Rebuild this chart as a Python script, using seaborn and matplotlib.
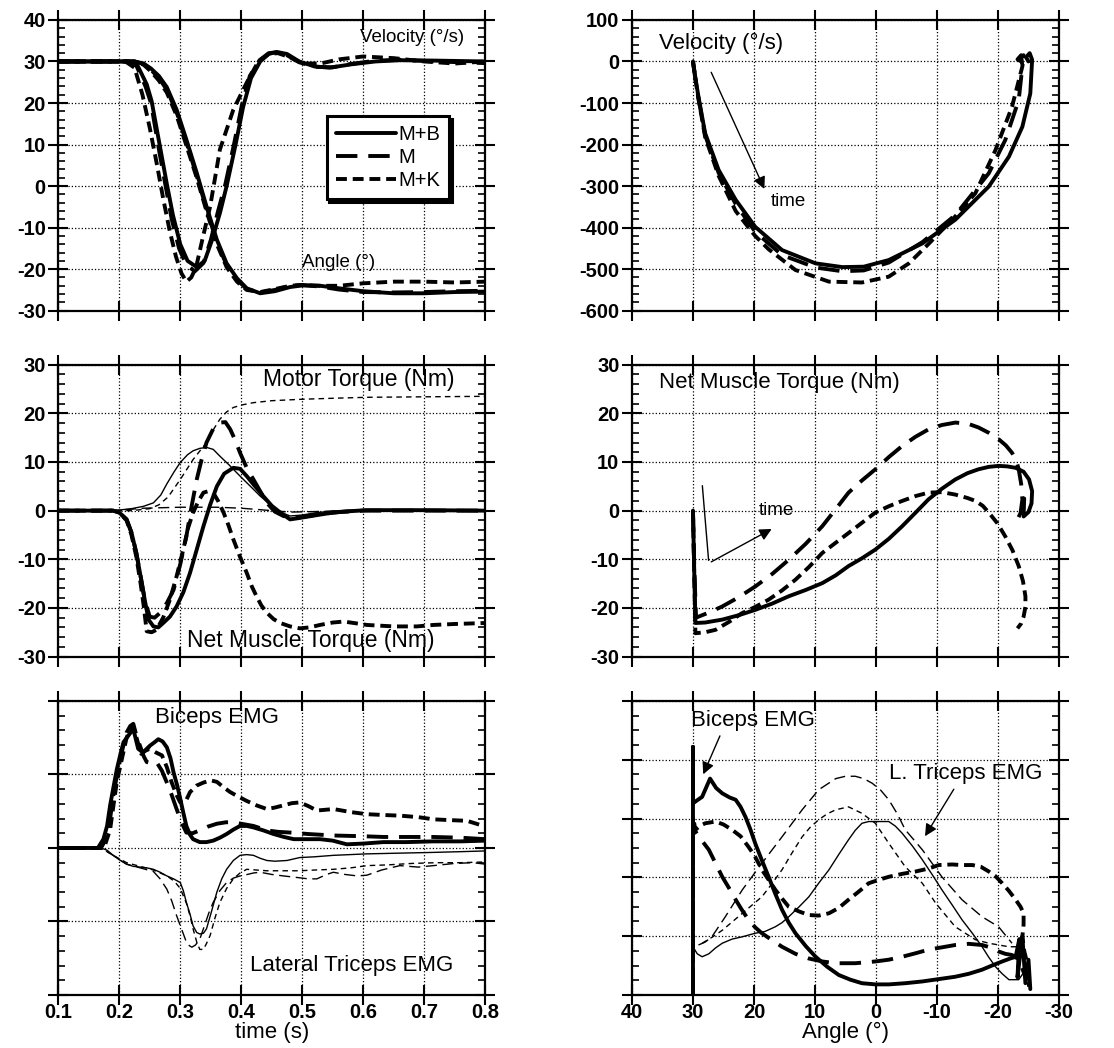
import matplotlib
matplotlib.use("Agg")
import matplotlib.pyplot as plt
import seaborn as sns
from matplotlib.ticker import AutoMinorLocator

# ---------------- data ----------------
# top left: joint angle and (scaled) velocity vs time
vel_t_mb = [0.10, 0.215, 0.23, 0.245, 0.253, 0.268, 0.278, 0.288, 0.300, 0.312, 0.327, 0.340, 0.352, 0.365, 0.376,
            0.390, 0.403, 0.416, 0.431, 0.445, 0.458, 0.475, 0.495, 0.52, 0.545, 0.58, 0.62, 0.66, 0.72, 0.80]
vel_mb = [30, 30, 29, 24.5, 20.5, 8.5, 0.5, -7.0, -14.0, -18.0, -19.5, -18.0, -13.0, -6.5, 0.0,
          9.5, 19.0, 26.0, 30.0, 31.8, 32.3, 31.8, 30.0, 28.8, 28.5, 29.3, 30.0, 30.3, 30.2, 30.0]
vel_t_m = [0.10, 0.213, 0.228, 0.243, 0.252, 0.266, 0.276, 0.286, 0.298, 0.310, 0.324, 0.338, 0.350, 0.362, 0.374,
           0.388, 0.401, 0.414, 0.430, 0.445, 0.458, 0.475, 0.495, 0.52, 0.55, 0.58, 0.62, 0.66, 0.72, 0.80]
vel_m = [30, 30, 29, 24, 20, 8, 0, -8, -15, -19, -20.5, -18.5, -13, -6, 0.5,
         10, 19.5, 26.5, 30.3, 32, 32.2, 31.5, 29.8, 28.7, 28.6, 29.4, 30.2, 30.4, 30, 29.6]
vel_t_mk = [0.10, 0.21, 0.225, 0.238, 0.25, 0.262, 0.272, 0.283, 0.293, 0.302, 0.31, 0.318, 0.326, 0.336, 0.349,
            0.365, 0.387, 0.409, 0.428, 0.445, 0.46, 0.48, 0.50, 0.53, 0.56, 0.60, 0.65, 0.70, 0.75, 0.80]
vel_mk = [30, 30, 28.5, 22, 14, 5, -3, -11, -17, -21, -23, -22, -19.5, -13, -4.9,
          8.8, 18.4, 24.9, 30, 31.8, 32, 31, 29.5, 29.5, 30.5, 31.2, 30.8, 30.0, 29.5, 30]

ang_t = [0.10, 0.225, 0.240, 0.252, 0.265, 0.278, 0.294, 0.310, 0.327, 0.343, 0.360, 0.376, 0.393, 0.409, 0.431,
         0.455, 0.48, 0.50, 0.53, 0.56, 0.60, 0.65, 0.70, 0.75, 0.80]
ang_mb = [30, 30, 29.5, 28.3, 26.5, 23.8, 18.4, 11.2, 3.2, -4.9, -12.9, -18.6, -22.2, -24.6, -25.8,
          -25.3, -24.3, -23.9, -24.0, -24.6, -25.3, -25.8, -25.8, -25.5, -25.4]
ang_m = [30, 30, 29.4, 28.0, 26.0, 23.2, 17.8, 10.5, 2.5, -5.5, -13.5, -19.0, -22.5, -24.8, -25.6,
         -25.0, -24.0, -23.8, -24.2, -24.9, -25.5, -25.6, -25.5, -25.3, -25.2]
ang_mk = [30, 30, 29.2, 27.6, 25.4, 22.5, 17.0, 9.8, 2.0, -6.0, -14.0, -19.5, -23.0, -25.0, -25.5,
          -24.8, -24.0, -23.8, -24.0, -24.0, -23.4, -23.0, -23.0, -23.2, -23.0]

# top right: velocity vs angle
ph_a_mb = [30, 29.6, 29.1, 28.0, 25.8, 23.0, 19.8, 15.4, 9.9, 5.5, 2.0, -2.1, -7.6, -13.0, -18.5, -21.8, -24.0,
           -25.3, -25.6, -25.2, -24.6, -25.0]
ph_v_mb = [0, -40, -85, -173, -261, -333, -398, -454, -486, -495, -494, -478, -438, -381, -301, -229, -157,
           -77, 4, 20, 10, 0]
ph_a_m = [30, 29.6, 29.1, 28.0, 25.8, 23.0, 19.8, 15.4, 9.9, 5.5, 2.0, -2.1, -7.6, -13.0, -18.5, -21.2, -23.4,
          -24.0, -23.8, -23.2, -23.8]
ph_v_m = [0, -42, -88, -178, -268, -343, -410, -466, -496, -505, -503, -484, -435, -370, -269, -189, -93,
          -12, 15, 5, 0]
ph_a_mk = [30, 29.6, 29.1, 28.0, 25.8, 23.0, 19.8, 17.6, 13.2, 7.7, 2.3, -2.1, -5.4, -8.7, -13.0, -16.3, -19.6,
           -22.3, -24.0, -24.2, -23.5, -24.0]
ph_v_mk = [0, -42, -90, -182, -275, -360, -420, -452, -502, -530, -532, -518, -486, -438, -373, -317, -213,
           -109, -12, 15, 8, 0]

# middle left: motor torque (thin) and net muscle torque (thick) vs time
mot_t_mb = [0.10, 0.19, 0.22, 0.24, 0.256, 0.268, 0.278, 0.29, 0.30, 0.312, 0.321, 0.332, 0.343, 0.354, 0.365,
            0.38, 0.398, 0.415, 0.431, 0.445, 0.458, 0.47, 0.48, 0.50, 0.524, 0.56, 0.606, 0.65, 0.80]
mot_mb = [0, 0, 0.4, 0.9, 1.6, 3.2, 5.5, 8.0, 9.9, 11.5, 12.3, 12.8, 13.0, 12.6, 11.2,
          9.4, 7.1, 5.0, 3.0, 1.5, 0.2, -0.6, -1.1, -0.9, -0.4, 0.0, 0.2, 0.1, 0.0]
mot_t_m = [0.10, 0.19, 0.24, 0.30, 0.36, 0.40, 0.42, 0.45, 0.48, 0.52, 0.60, 0.80]
mot_m = [0, 0, 0.5, 0.7, 0.7, 0.5, 0.3, 0.0, -0.3, -0.2, 0.1, 0.0]
mot_t_mk = [0.10, 0.22, 0.25, 0.265, 0.28, 0.30, 0.321, 0.343, 0.355, 0.365, 0.376, 0.387, 0.40, 0.42, 0.45,
            0.50, 0.55, 0.606, 0.70, 0.80]
mot_mk = [0, 0, 0.4, 1.2, 2.8, 6.4, 10.5, 14.0, 16.8, 18.8, 20.3, 21.2, 21.7, 22.2, 22.6,
          22.9, 23.1, 23.3, 23.4, 23.5]

net_t_mb = [0.10, 0.19, 0.20, 0.212, 0.22, 0.228, 0.235, 0.242, 0.248, 0.256, 0.264, 0.272, 0.283, 0.294, 0.305,
            0.316, 0.327, 0.338, 0.349, 0.36, 0.372, 0.387, 0.398, 0.409, 0.42, 0.436, 0.45, 0.464, 0.48, 0.496,
            0.52, 0.55, 0.58, 0.606, 0.70, 0.80]
net_mb = [0, 0, -0.4, -1.8, -4.5, -8.7, -13.5, -18.5, -22.4, -23.8, -24.0, -23.1, -21.8, -19.7, -16.8,
          -12.8, -8.0, -3.2, 1.2, 5.0, 7.6, 8.8, 8.6, 7.1, 5.4, 3.0, 1.0, -0.4, -1.8, -1.5,
          -1.0, -0.4, -0.1, 0.1, 0.1, 0.0]
net_t_m = [0.10, 0.19, 0.20, 0.212, 0.22, 0.228, 0.235, 0.242, 0.25, 0.258, 0.267, 0.278, 0.289, 0.30, 0.31,
           0.318, 0.327, 0.335, 0.343, 0.354, 0.365, 0.374, 0.382, 0.39, 0.398, 0.41, 0.42, 0.431, 0.442, 0.455,
           0.469, 0.485, 0.50, 0.53, 0.56, 0.60, 0.80]
net_m = [0, 0, -0.4, -1.8, -4.5, -8.7, -13.5, -18.5, -21.8, -22.0, -21.0, -19.0, -16.3, -11.0, -5.3,
         0.5, 6.4, 10.5, 14.0, 16.8, 18.1, 18.2, 16.7, 14.5, 11.9, 8.5, 6.4, 4.0, 1.6, -0.2,
         -1.1, -1.5, -1.3, -0.7, -0.3, 0.0, 0.0]
net_t_mk = [0.10, 0.19, 0.20, 0.212, 0.22, 0.228, 0.235, 0.24, 0.245, 0.253, 0.261, 0.272, 0.283, 0.294, 0.305,
            0.313, 0.321, 0.33, 0.338, 0.346, 0.354, 0.362, 0.371, 0.379, 0.387, 0.398, 0.409, 0.417, 0.425,
            0.433, 0.442, 0.453, 0.464, 0.48, 0.496, 0.512, 0.529, 0.55, 0.568, 0.59, 0.606, 0.65, 0.688,
            0.715, 0.75, 0.80]
net_mk = [0, 0, -0.4, -2.0, -5.0, -9.5, -15.0, -19.5, -24.8, -25.0, -24.5, -22.0, -18.3, -13.5, -8.0,
          -3.5, -0.4, 2.0, 3.7, 4.0, 3.7, 2.0, -0.4, -3.0, -5.9, -9.5, -12.8, -15.5, -17.6,
          -19.5, -21.0, -22.3, -23.1, -23.8, -24.2, -24.0, -23.5, -23.0, -22.8, -23.2, -23.5, -23.8, -23.8,
          -23.5, -23.3, -23.1]

# middle right: net muscle torque vs angle
nt_a_mb = [30, 29.8, 29.6, 28.0, 25.2, 22.5, 19.8, 17.0, 14.3, 11.5, 8.8, 6.6, 4.5, 2.3, 0.1, -2.1, -4.3, -6.5,
           -8.6, -10.8, -13.0, -15.0, -16.8, -18.5, -20.1, -21.5, -22.9, -24.2, -25.1, -25.6, -25.5, -25.0,
           -24.2, -24.3]
nt_v_mb = [0, -12, -23.1, -23.0, -22.4, -21.5, -20.4, -19.1, -17.6, -16.3, -14.9, -13.3, -11.4, -9.8, -8.0, -5.8,
           -3.2, -0.4, 2.3, 4.5, 6.4, 7.7, 8.5, 9.0, 9.2, 9.1, 8.8, 8.0, 6.4, 4.0, 1.5, -0.3, -1.2, 2.5]
nt_a_m = [30, 29.8, 29.5, 27.5, 25.2, 22.5, 19.8, 17.0, 14.3, 11.5, 8.8, 6.6, 4.5, 2.3, 0.1, -2.1, -4.3, -6.5,
          -8.6, -10.8, -13.0, -15.0, -16.8, -18.5, -20.1, -21.3, -22.3, -23.0, -23.4, -23.8, -24.0, -23.7, -23.2]
nt_v_m = [0, -11, -22.0, -21.0, -19.7, -17.8, -15.6, -13.0, -10.1, -6.8, -3.2, 0.3, 3.7, 6.2, 8.5, 11.0, 13.3,
          15.2, 16.7, 17.6, 18.1, 17.9, 17.1, 16.0, 14.7, 13.4, 11.9, 10.3, 8.5, 5.5, 2.3, -0.5, -1.8]
nt_a_mk = [30, 29.8, 29.6, 28.0, 26.3, 24.0, 22.0, 19.8, 17.6, 15.4, 13.2, 11.0, 8.8, 6.6, 4.5, 2.3, 0.1, -2.1,
           -4.3, -6.5, -8.6, -10.8, -13.0, -15.0, -16.3, -17.5, -18.5, -19.9, -21.2, -22.4, -23.4, -24.1, -24.5,
           -24.5, -24.2, -23.8, -23.2]
nt_v_mk = [0, -13, -25.2, -25.0, -24.5, -22.8, -21.1, -19.8, -18.3, -16.4, -14.2, -11.6, -8.7, -6.6, -4.6, -2.5,
           -0.4, 0.9, 2.0, 3.0, 3.7, 3.8, 3.3, 2.6, 2.0, 1.0, -0.4, -2.6, -5.3, -8.2, -11.4, -14.5, -17.6,
           -19.8, -21.8, -23.2, -24.2]

# bottom left: biceps (thick, up) and lateral triceps (thin, down) EMG vs time
bic_t_mb = [0.10, 0.165, 0.174, 0.180, 0.185, 0.191, 0.196, 0.202, 0.207, 0.215, 0.223, 0.231, 0.239, 0.25, 0.258,
            0.264, 0.271, 0.278, 0.284, 0.289, 0.295, 0.30, 0.305, 0.31, 0.316, 0.321, 0.332, 0.343, 0.354,
            0.365, 0.376, 0.387, 0.398, 0.409, 0.42, 0.436, 0.453, 0.47, 0.486, 0.51, 0.529, 0.55, 0.573, 0.60,
            0.633, 0.67, 0.715, 0.76, 0.80]
bic_mb = [0, 0, 0.12, 0.3, 0.58, 0.85, 1.07, 1.28, 1.44, 1.53, 1.62, 1.35, 1.30, 1.39, 1.44,
          1.48, 1.45, 1.37, 1.22, 1.03, 0.85, 0.67, 0.48, 0.30, 0.18, 0.12, 0.08, 0.08, 0.1,
          0.14, 0.19, 0.25, 0.30, 0.30, 0.28, 0.24, 0.19, 0.15, 0.12, 0.12, 0.12, 0.1, 0.05, 0.06,
          0.08, 0.08, 0.09, 0.09, 0.1]
bic_t_m = [0.10, 0.17, 0.18, 0.185, 0.19, 0.196, 0.204, 0.212, 0.218, 0.223, 0.229, 0.234, 0.24, 0.245, 0.253,
           0.261, 0.27, 0.278, 0.286, 0.294, 0.302, 0.31, 0.32, 0.332, 0.345, 0.36, 0.375, 0.387, 0.40, 0.42,
           0.442, 0.46, 0.48, 0.51, 0.551, 0.60, 0.633, 0.68, 0.715, 0.76, 0.80]
bic_m = [0, 0, 0.15, 0.4, 0.7, 0.98, 1.3, 1.57, 1.66, 1.69, 1.5, 1.39, 1.25, 1.17, 1.15,
         1.17, 1.05, 0.89, 0.72, 0.53, 0.35, 0.21, 0.2, 0.24, 0.29, 0.33, 0.35, 0.35, 0.33, 0.30,
         0.24, 0.22, 0.21, 0.19, 0.17, 0.16, 0.15, 0.15, 0.15, 0.14, 0.12]
bic_t_mk = [0.10, 0.175, 0.185, 0.19, 0.196, 0.204, 0.212, 0.218, 0.223, 0.23, 0.236, 0.242, 0.25, 0.26, 0.27,
            0.278, 0.286, 0.294, 0.30, 0.308, 0.316, 0.327, 0.338, 0.35, 0.36, 0.372, 0.382, 0.395, 0.409,
            0.425, 0.442, 0.455, 0.469, 0.483, 0.496, 0.51, 0.524, 0.538, 0.551, 0.565, 0.578, 0.606, 0.63,
            0.66, 0.69, 0.715, 0.74, 0.77, 0.797]
bic_mk = [0, 0, 0.25, 0.55, 0.9, 1.2, 1.5, 1.62, 1.66, 1.45, 1.28, 1.32, 1.35, 1.3, 1.26,
          1.1, 0.89, 0.72, 0.62, 0.62, 0.76, 0.85, 0.89, 0.92, 0.9, 0.82, 0.76, 0.7, 0.64,
          0.58, 0.53, 0.55, 0.58, 0.61, 0.62, 0.57, 0.51, 0.52, 0.53, 0.51, 0.49, 0.46, 0.45,
          0.44, 0.42, 0.39, 0.38, 0.37, 0.3]

tri_t_mb = [0.10, 0.17, 0.18, 0.19, 0.20, 0.212, 0.223, 0.234, 0.245, 0.256, 0.267, 0.278, 0.289, 0.30, 0.305,
            0.31, 0.316, 0.321, 0.327, 0.332, 0.338, 0.343, 0.35, 0.36, 0.368, 0.376, 0.387, 0.398, 0.409, 0.42,
            0.431, 0.442, 0.455, 0.475, 0.496, 0.52, 0.551, 0.606, 0.66, 0.715, 0.76, 0.80]
tri_mb = [0, 0, -0.03, -0.1, -0.16, -0.22, -0.25, -0.26, -0.27, -0.29, -0.33, -0.38, -0.42, -0.47, -0.58,
          -0.74, -0.9, -1.06, -1.15, -1.17, -1.16, -1.1, -0.9, -0.6, -0.42, -0.29, -0.17, -0.1, -0.09, -0.1,
          -0.14, -0.17, -0.18, -0.17, -0.13, -0.12, -0.1, -0.08, -0.07, -0.06, -0.05, -0.04]
tri_t_m = [0.10, 0.17, 0.19, 0.212, 0.234, 0.256, 0.267, 0.278, 0.286, 0.294, 0.302, 0.31, 0.315, 0.319, 0.325,
           0.332, 0.34, 0.347, 0.354, 0.365, 0.376, 0.387, 0.398, 0.41, 0.42, 0.431, 0.45, 0.469, 0.49, 0.51,
           0.524, 0.54, 0.551, 0.57, 0.59, 0.606, 0.63, 0.66, 0.69, 0.715, 0.75, 0.78, 0.80]
tri_m = [0, 0, -0.1, -0.22, -0.27, -0.32, -0.42, -0.56, -0.72, -0.92, -1.1, -1.28, -1.33, -1.35, -1.32,
         -1.24, -1.05, -0.88, -0.74, -0.58, -0.47, -0.41, -0.38, -0.36, -0.34, -0.33, -0.36, -0.38, -0.40, -0.42,
         -0.42, -0.36, -0.33, -0.36, -0.38, -0.37, -0.30, -0.24, -0.26, -0.24, -0.21, -0.20, -0.22]
tri_t_mk = [0.10, 0.17, 0.19, 0.212, 0.234, 0.256, 0.278, 0.29, 0.30, 0.31, 0.316, 0.321, 0.327, 0.332, 0.338,
            0.343, 0.349, 0.357, 0.365, 0.376, 0.387, 0.398, 0.409, 0.425, 0.442, 0.47, 0.496, 0.52, 0.551,
            0.58, 0.606, 0.64, 0.68, 0.72, 0.76, 0.80]
tri_mk = [0, 0, -0.1, -0.2, -0.25, -0.3, -0.38, -0.45, -0.55, -0.75, -0.92, -1.1, -1.28, -1.38, -1.38,
          -1.3, -1.19, -0.95, -0.74, -0.55, -0.42, -0.34, -0.29, -0.3, -0.31, -0.31, -0.31, -0.3, -0.29,
          -0.27, -0.24, -0.23, -0.21, -0.2, -0.2, -0.19]

# bottom right: EMG vs angle
eb_a_mb = [30, 30, 30, 29.6, 28.5, 27.2, 26.2, 25.2, 24.0, 23.0, 22.2, 21.4, 20.6, 19.8, 18.7, 17.6, 16.5, 15.4,
           14.3, 13.2, 11.5, 9.9, 8.0, 6.1, 4.2, 2.3, 0.1, -2.1, -4.8, -7.6, -10.3, -13.0, -15.2, -17.4, -19.0,
           -20.7, -22.0, -22.9, -23.5, -23.2, -24.0, -24.5, -25.0, -25.3]
eb_v_mb = [0, 4.22, 3.26, 3.29, 3.37, 3.68, 3.52, 3.43, 3.36, 3.32, 3.2, 3.03, 2.82, 2.58, 2.29, 2.01, 1.72, 1.45,
           1.23, 1.05, 0.83, 0.65, 0.48, 0.34, 0.26, 0.2, 0.18, 0.18, 0.2, 0.23, 0.27, 0.31, 0.36, 0.43, 0.5,
           0.57, 0.62, 0.65, 0.95, 0.3, 1.0, 0.2, 0.6, 0.1]
eb_a_m = [30, 30, 29.6, 28.5, 27.4, 26.3, 25.2, 24.1, 23.0, 22.0, 20.9, 19.8, 18.7, 17.0, 15.4, 13.2, 11.0, 8.8,
          6.6, 3.4, 0.1, -2.1, -4.3, -6.5, -8.6, -10.8, -13.0, -15.2, -17.4, -19.0, -20.1, -21.2, -22.3, -23.5,
          -24.5]
eb_v_m = [0, 2.92, 2.78, 2.62, 2.47, 2.24, 2.01, 1.82, 1.62, 1.45, 1.28, 1.15, 1.05, 0.93, 0.82, 0.7, 0.62, 0.57,
          0.54, 0.54, 0.57, 0.6, 0.65, 0.71, 0.77, 0.81, 0.85, 0.87, 0.85, 0.8, 0.74, 0.7, 0.68, 0.6, 0.3]
eb_a_mk = [30, 30, 29.6, 28.8, 28.0, 26.3, 25.0, 23.6, 22.2, 20.9, 19.8, 18.7, 17.6, 16.5, 15.4, 14.3, 12.6,
           11.0, 9.4, 7.7, 6.1, 4.5, 2.8, 1.2, -0.5, -2.1, -4.3, -6.5, -8.6, -10.3, -12.5, -14.0, -15.8, -17.2,
           -18.5, -19.6, -20.7, -21.8, -22.9, -23.7, -24.2, -24.2, -24.0, -24.3, -24.8, -25.1]
eb_v_mk = [0, 3.03, 2.81, 2.88, 2.92, 2.95, 2.9, 2.81, 2.7, 2.52, 2.35, 2.13, 1.96, 1.79, 1.64, 1.5, 1.42, 1.36,
           1.35, 1.39, 1.48, 1.62, 1.76, 1.9, 1.96, 2.01, 2.06, 2.1, 2.15, 2.21, 2.22, 2.21, 2.21, 2.18, 2.1,
           2.02, 1.9, 1.77, 1.62, 1.5, 1.39, 1.2, 0.99, 0.75, 0.54, 0.14]
et_a_mb = [30, 30, 29.3, 28.5, 27.4, 26.3, 25.2, 23.6, 21.9, 19.8, 18.2, 16.5, 15.4, 14.3, 12.6, 11.0, 9.4, 7.7,
           6.1, 4.5, 3.4, 2.3, 1.2, 0.1, -2.1, -3.2, -4.3, -6.0, -7.6, -9.2, -10.8, -12.5, -14.1, -15.8, -17.4,
           -18.5, -19.6, -20.7, -21.8, -23.4, -24.0]
et_v_mb = [0.9, 0.82, 0.7, 0.65, 0.7, 0.8, 0.88, 0.95, 0.99, 1.05, 1.08, 1.16, 1.23, 1.33, 1.5, 1.67, 1.9, 2.13,
           2.39, 2.64, 2.8, 2.92, 2.95, 2.95, 2.95, 2.87, 2.75, 2.53, 2.3, 2.05, 1.79, 1.53, 1.28, 1.05, 0.82,
           0.64, 0.48, 0.36, 0.26, 0.26, 0.35]
et_a_m = [29.1, 28.0, 26.9, 24.7, 21.9, 18.7, 15.4, 12.1, 9.4, 6.6, 5.0, 3.4, 2.0, 0.6, -0.8, -2.1, -3.5, -4.8,
          -6.2, -7.6, -10.8, -14.1, -17.4, -20.1, -22.3]
et_v_m = [0.85, 0.9, 0.99, 1.33, 1.79, 2.24, 2.69, 3.15, 3.49, 3.68, 3.72, 3.72, 3.68, 3.6, 3.48, 3.32, 3.08,
          2.81, 2.64, 2.47, 2.01, 1.62, 1.33, 1.16, 0.88]
et_a_mk = [28.5, 26.9, 25.2, 23.6, 21.9, 20.3, 18.7, 17.0, 15.4, 13.8, 12.1, 10.8, 9.4, 8.0, 6.6, 4.5, 2.3, 0.1,
           -2.1, -4.8, -7.6, -9.8, -13.0, -16.3, -18.5, -21.8, -24.0]
et_v_mk = [0.88, 0.98, 1.1, 1.24, 1.39, 1.53, 1.67, 1.9, 2.13, 2.41, 2.69, 2.85, 2.98, 3.08, 3.15, 3.2, 3.09,
           2.92, 2.58, 2.18, 1.9, 1.56, 1.16, 0.94, 0.88, 0.82, 0.82]

# ticks
time_ticks = [0.1, 0.2, 0.3, 0.4, 0.5, 0.6, 0.7, 0.8]
angle_ticks = [40, 30, 20, 10, 0, -10, -20, -30]
kin_ticks = [-30, -20, -10, 0, 10, 20, 30, 40]
vel_ticks = [-600, -500, -400, -300, -200, -100, 0, 100]
torque_ticks = [-30, -20, -10, 0, 10, 20, 30]
emg_left_ticks = [-2, -1, 0, 1, 2]
emg_right_ticks = [0, 1, 2, 3, 4, 5]

# ---------------- style ----------------
sns.set_style("ticks")
plt.rcParams["font.family"] = ["Liberation Sans", "DejaVu Sans"]
plt.rcParams["axes.unicode_minus"] = False
for key in ["text.color", "axes.labelcolor", "xtick.color", "ytick.color", "axes.edgecolor"]:
    plt.rcParams[key] = "black"

THICK = 2.8
THIN = 1.0
SOLID = "-"
DASH = (0, (5.5, 2.8))
DOT = (0, (2.8, 1.5))
THIN_DASH = (0, (8, 4))
THIN_DOT = (0, (4, 3))
TICK_FS = 14.5


def curve(ax, x, y, ls, lw):
    n = len(ax.lines)
    sns.lineplot(x=x, y=y, ax=ax, sort=False, estimator=None, color="black",
                 linewidth=lw, linestyle=ls)
    return ax.lines[n]


def frame(ax, xticks, xlim, yticks, ylim, yminor, show_x, show_y):
    ax.set_xlim(*xlim)
    ax.set_ylim(*ylim)
    ax.set_xticks(xticks, labels=[f"{v:g}" for v in xticks], fontsize=TICK_FS, fontweight="bold")
    ax.set_yticks(yticks, labels=[f"{v:g}" for v in yticks], fontsize=TICK_FS, fontweight="bold")
    ax.yaxis.set_minor_locator(AutoMinorLocator(yminor))
    ax.tick_params(which="major", direction="inout", length=14, width=1.5,
                   top=True, right=True, labelbottom=show_x, labelleft=show_y)
    ax.tick_params(axis="x", which="major", pad=-1)
    ax.tick_params(axis="y", which="major", pad=2)
    ax.tick_params(axis="y", which="minor", direction="in", length=5, width=1.2,
                   left=True, right=True)
    ax.grid(True, which="major", linestyle=":", color="black", linewidth=0.9)
    for s in ax.spines.values():
        s.set_linewidth(1.6)
        s.set_color("black")


fig = plt.figure(figsize=(11.14, 10.48), dpi=100)
L, R, W = 0.0523, 0.5673, 0.3833
rows = [(0.7035, 0.2775), (0.3735, 0.2785), (0.0506, 0.2805)]

ax1 = fig.add_axes([L, rows[0][0], W, rows[0][1]])
ax2 = fig.add_axes([R, rows[0][0], W, rows[0][1]])
ax3 = fig.add_axes([L, rows[1][0], W, rows[1][1]])
ax4 = fig.add_axes([R, rows[1][0], W, rows[1][1]])
ax5 = fig.add_axes([L, rows[2][0], W, rows[2][1]])
ax6 = fig.add_axes([R, rows[2][0], W, rows[2][1]])

# top left
h_mb = curve(ax1, vel_t_mb, vel_mb, SOLID, THICK)
h_m = curve(ax1, vel_t_m, vel_m, DASH, THICK)
h_mk = curve(ax1, vel_t_mk, vel_mk, DOT, THICK)
curve(ax1, ang_t, ang_mb, SOLID, THICK)
curve(ax1, ang_t, ang_m, DASH, THICK)
curve(ax1, ang_t, ang_mk, DOT, THICK)
frame(ax1, time_ticks, (0.1, 0.8), kin_ticks, (-30, 40), 5, False, True)
ax1.text(0.595, 35.8, "Velocity (°/s)", fontsize=13.5, va="center")
ax1.text(0.50, -18.3, "Angle (°)", fontsize=13.5, va="center")
leg = ax1.legend([h_mb, h_m, h_mk], ["M+B", "M", "M+K"], loc="upper left",
                 bbox_to_anchor=(0.605, 0.705), fontsize=14.5, handlelength=3.0,
                 handletextpad=0.1, labelspacing=0.2, borderpad=0.45, fancybox=False,
                 edgecolor="black", framealpha=1, shadow={"color": "black", "alpha": 1})
leg.get_frame().set_linewidth(2.2)

# top right
curve(ax2, ph_a_mb, ph_v_mb, SOLID, THICK)
curve(ax2, ph_a_m, ph_v_m, DASH, THICK)
curve(ax2, ph_a_mk, ph_v_mk, DOT, THICK)
frame(ax2, angle_ticks, (40, -30), vel_ticks, (-600, 100), 5, False, True)
ax2.text(35.6, 44, "Velocity (°/s)", fontsize=16, va="center")
ax2.annotate("", xy=(18.1, -313), xytext=(27.2, -20),
             arrowprops=dict(arrowstyle="-|>", color="black", lw=1, mutation_scale=18))
ax2.text(17.3, -337, "time", fontsize=13.5, va="center")

# middle left
curve(ax3, mot_t_mb, mot_mb, SOLID, THIN)
curve(ax3, mot_t_m, mot_m, THIN_DASH, THIN)
curve(ax3, mot_t_mk, mot_mk, THIN_DOT, THIN)
curve(ax3, net_t_mb, net_mb, SOLID, THICK)
curve(ax3, net_t_m, net_m, DASH, THICK)
curve(ax3, net_t_mk, net_mk, DOT, THICK)
frame(ax3, time_ticks, (0.1, 0.8), torque_ticks, (-30, 30), 5, False, True)
ax3.text(0.436, 27.0, "Motor Torque (Nm)", fontsize=16.5, va="center")
ax3.text(0.311, -26.6, "Net Muscle Torque (Nm)", fontsize=16.5, va="center")

# middle right
curve(ax4, nt_a_mb, nt_v_mb, SOLID, THICK)
curve(ax4, nt_a_m, nt_v_m, DASH, THICK)
curve(ax4, nt_a_mk, nt_v_mk, DOT, THICK)
frame(ax4, angle_ticks, (40, -30), torque_ticks, (-30, 30), 5, False, True)
ax4.text(35.6, 26.4, "Net Muscle Torque (Nm)", fontsize=16, va="center")
ax4.annotate("", xy=(27.4, -10.8), xytext=(28.5, 5.7),
             arrowprops=dict(arrowstyle="-", color="black", lw=1))
ax4.annotate("", xy=(16.7, -3.5), xytext=(27.4, -10.8),
             arrowprops=dict(arrowstyle="-|>", color="black", lw=1, mutation_scale=18))
ax4.text(19.2, 0.0, "time", fontsize=13.5, va="center")

# bottom left
curve(ax5, bic_t_mb, bic_mb, SOLID, THICK)
curve(ax5, bic_t_m, bic_m, DASH, THICK)
curve(ax5, bic_t_mk, bic_mk, DOT, THICK)
curve(ax5, tri_t_mb, tri_mb, SOLID, THIN)
curve(ax5, tri_t_m, tri_m, THIN_DASH, THIN)
curve(ax5, tri_t_mk, tri_mk, THIN_DOT, THIN)
frame(ax5, time_ticks, (0.1, 0.8), emg_left_ticks, (-2, 2), 5, True, False)
ax5.set_xlabel("time (s)", fontsize=16, labelpad=0)
ax5.text(0.259, 1.77, "Biceps EMG", fontsize=16, va="center")
ax5.text(0.415, -1.6, "Lateral Triceps EMG", fontsize=16, va="center")

# bottom right
curve(ax6, eb_a_mb, eb_v_mb, SOLID, THICK)
curve(ax6, eb_a_m, eb_v_m, DASH, THICK)
curve(ax6, eb_a_mk, eb_v_mk, DOT, THICK)
curve(ax6, et_a_mb, et_v_mb, SOLID, THIN)
curve(ax6, et_a_m, et_v_m, THIN_DASH, THIN)
curve(ax6, et_a_mk, et_v_mk, THIN_DOT, THIN)
frame(ax6, angle_ticks, (40, -30), emg_right_ticks, (0, 5), 4, True, False)
ax6.set_xlabel("Angle (°)", fontsize=16, labelpad=0)
ax6.text(30.4, 4.67, "Biceps EMG", fontsize=16, va="center")
ax6.annotate("", xy=(28.5, 3.71), xytext=(25.4, 4.45),
             arrowprops=dict(arrowstyle="-|>", color="black", lw=1, mutation_scale=18))
ax6.text(-2.1, 3.77, "L. Triceps EMG", fontsize=16, va="center")
ax6.annotate("", xy=(-7.8, 2.66), xytext=(-13.0, 3.54),
             arrowprops=dict(arrowstyle="-|>", color="black", lw=1, mutation_scale=18))

fig.savefig("out.png", dpi=100)
